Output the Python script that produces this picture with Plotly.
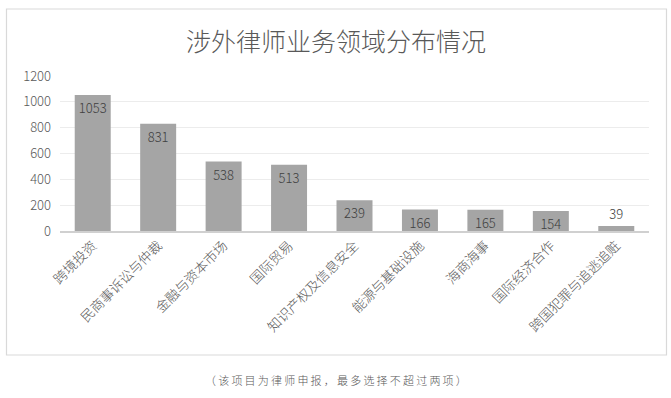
import plotly.graph_objects as go

categories = ["跨境投资", "民商事诉讼与仲裁", "金融与资本市场", "国际贸易", "知识产权及信息安全",
              "能源与基础设施", "海商海事", "国际经济合作", "跨国犯罪与追逃追赃"]
values = [1053, 831, 538, 513, 239, 166, 165, 154, 39]
yticks = [0, 200, 400, 600, 800, 1000, 1200]

title_text = "涉外律师业务领域分布情况"
note_text = "（该项目为律师申报，最多选择不超过两项）"

FONT = "Noto Sans CJK SC"
GRAY = "#595959"

textpos = ["inside" if v > 100 else "outside" for v in values]

fig = go.Figure(go.Bar(
    x=categories, y=values,
    text=[str(v) for v in values],
    textposition=textpos,
    insidetextanchor="end",
    textfont=dict(family=FONT, size=13, color="#404040", weight=300),
    marker=dict(color="#a5a5a5", line=dict(width=0)),
    cliponaxis=False,
    hoverinfo="skip",
))

L, R, T, B = 60, 671 - 649, 76, 398 - 231
W, H = 671, 398
pw, ph = W - L - R, H - T - B

def px2x(px):
    return (px - L) / pw

def py2y(py):
    return (H - B - py) / ph

spaced_note = "\u2009".join(note_text)

fig.update_layout(
    width=W, height=H,
    margin=dict(l=L, r=R, t=T, b=B, pad=0, autoexpand=False),
    paper_bgcolor="white", plot_bgcolor="white",
    bargap=0.45,
    showlegend=False,
    uniformtext=dict(minsize=13, mode="show"),
    font=dict(family=FONT, color=GRAY),
    xaxis=dict(
        tickangle=-45, tickfont=dict(size=13.5, color=GRAY, family=FONT, weight=300),
        showline=True, linecolor="#d0d0d0", linewidth=1.5,
        ticks="", showgrid=False, automargin=False,
    ),
    yaxis=dict(
        range=[0, 1200], tickvals=yticks, ticktext=[str(t) for t in yticks],
        tickfont=dict(size=13, color=GRAY, family=FONT, weight=300),
        showgrid=True, gridcolor="#ececec", gridwidth=1,
        zeroline=False, ticks="", ticklen=0, ticklabelstandoff=8,
        automargin=False,
    ),
    shapes=[dict(
        type="rect", xref="paper", yref="paper",
        x0=px2x(6.5), x1=px2x(666.5), y0=py2y(355), y1=py2y(9),
        line=dict(color="#d9d9d9", width=1.2), fillcolor="rgba(0,0,0,0)", layer="below",
    )],
    annotations=[
        dict(text=title_text, xref="paper", yref="paper",
             x=px2x(336), y=py2y(40), xanchor="center", yanchor="middle",
             showarrow=False, font=dict(size=25, color=GRAY, family=FONT, weight=300)),
        dict(text=spaced_note, xref="paper", yref="paper",
             x=px2x(336), y=py2y(380), xanchor="center", yanchor="middle",
             showarrow=False, font=dict(size=11, color=GRAY, family=FONT, weight=300)),
    ],
)

fig.write_html("out.html", config={"displayModeBar": False, "staticPlot": True})

with open("out.html", "r", encoding="utf-8") as f:
    html = f.read()
html = html.replace("<body>", '<body style="margin:0;padding:0;overflow:hidden">', 1)
with open("out.html", "w", encoding="utf-8") as f:
    f.write(html)
